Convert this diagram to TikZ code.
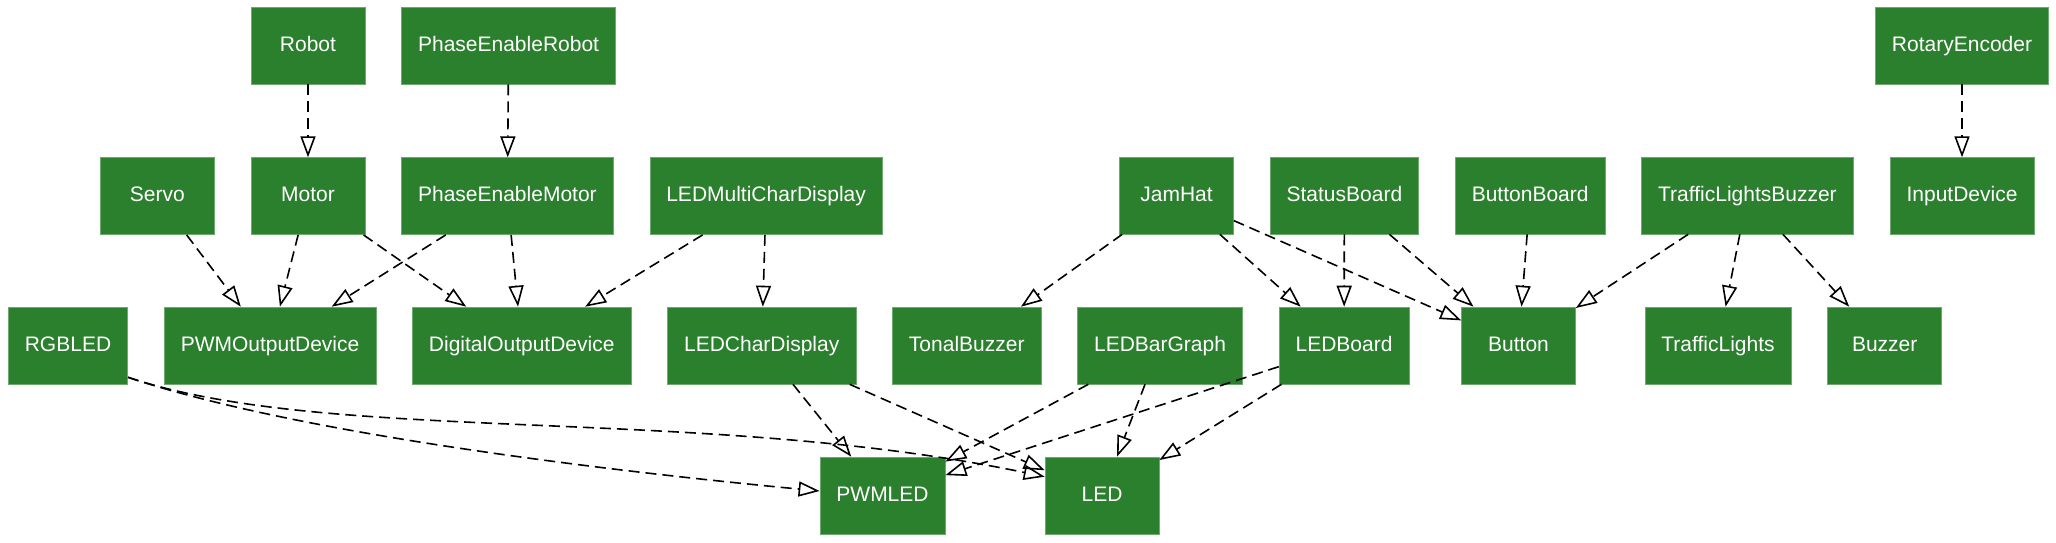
\documentclass[tikz,border=0pt]{standalone}
\usepackage{fontspec}
\setmainfont{Liberation Sans}
\usepackage{tikz}
\usetikzlibrary{positioning,arrows.meta}
\definecolor{boxgreen}{RGB}{43,128,45}
\definecolor{boxline}{RGB}{110,170,110}

\begin{document}
\begin{tikzpicture}[x=0.5pt,y=-0.5pt,
		cls/.style={fill=boxgreen,draw=boxline,line width=0.3pt,text=white,font=\fontsize{10.5}{12}\selectfont,minimum width=57pt,minimum height=38.5pt,inner xsep=8.25pt,text height=7.8pt,text depth=2.2pt},
		inh/.style={-{Triangle[open,length=10.5pt,width=7.5pt]},dash pattern=on 5.5pt off 3pt,line width=0.8pt}]
			\useasboundingbox (0,0) rectangle (2056,542);
			\node[cls] (robot) at (308,45.5) {Robot};
			\node[cls,right=18pt of robot] (perobot) {PhaseEnableRobot};
			\node[cls] (rotenc) at (1962,45.5) {RotaryEncoder};
			\node[cls,below=36.5pt of robot] (motor) {Motor};
			\node[cls,left=18pt of motor] (servo) {Servo};
			\node[cls,right=18pt of motor] (pemotor) {PhaseEnableMotor};
			\node[cls,right=18pt of pemotor] (ledmulti) {LEDMultiCharDisplay};
			\node[cls] (jamhat) at (1176.5,195.5) {JamHat};
			\node[cls,right=18pt of jamhat] (status) {StatusBoard};
			\node[cls,right=18pt of status] (btnboard) {ButtonBoard};
			\node[cls,right=18pt of btnboard] (tlbuzzer) {TrafficLightsBuzzer};
			\node[cls,below=36.5pt of rotenc] (input) {InputDevice};
			\node[cls] (rgbled) at (68,345.5) {RGBLED};
			\node[cls,right=18pt of rgbled] (pwmout) {PWMOutputDevice};
			\node[cls,right=18pt of pwmout] (digout) {DigitalOutputDevice};
			\node[cls,right=18pt of digout] (ledchar) {LEDCharDisplay};
			\node[cls,right=18pt of ledchar] (tonal) {TonalBuzzer};
			\node[cls,right=18pt of tonal] (bargraph) {LEDBarGraph};
			\node[cls,right=18pt of bargraph] (ledboard) {LEDBoard};
			\node[cls] (button) at (1518.5,345.5) {Button};
			\node[cls] (tlights) at (1718,345.5) {TrafficLights};
			\node[cls,right=18pt of tlights] (buzzer) {Buzzer};
			\node[cls] (pwmled) at (882.5,495.5) {PWMLED};
			\node[cls] (led) at (1102,495.5) {LED};
			\draw[inh] (robot) -- (motor);
			\draw[inh] (perobot) -- (pemotor);
			\draw[inh] (rotenc) -- (input);
			\draw[inh] (servo) -- (pwmout);
			\draw[inh] (motor) -- (pwmout);
			\draw[inh] (motor) -- (digout);
			\draw[inh] (pemotor) -- (pwmout);
			\draw[inh] (pemotor) -- (digout);
			\draw[inh] (ledmulti) -- (digout);
			\draw[inh] (ledmulti) -- (ledchar);
			\draw[inh] (jamhat) -- (tonal);
			\draw[inh] (jamhat) -- (ledboard);
			\draw[inh] (jamhat) -- (button);
			\draw[inh] (status) -- (ledboard);
			\draw[inh] (status) -- (button);
			\draw[inh] (btnboard) -- (button);
			\draw[inh] (tlbuzzer) -- (button);
			\draw[inh] (tlbuzzer) -- (tlights);
			\draw[inh] (tlbuzzer) -- (buzzer);
			\draw[inh] ([yshift=3.5pt]rgbled.south east) .. controls (300,435) and (620,472) .. ([yshift=2.25pt]pwmled.west);
			\draw[inh] ([yshift=3.5pt]rgbled.south east) .. controls (330,445) and (700,405) .. ([yshift=-10pt]led.north west);
			\draw[inh] (ledchar) -- (pwmled);
			\draw[inh] (ledchar) -- (led);
			\draw[inh] (bargraph) -- (pwmled);
			\draw[inh] (bargraph) -- (led);
			\draw[inh] (ledboard) -- (pwmled);
			\draw[inh] (ledboard) -- (led);
		\end{tikzpicture}
\end{document}
